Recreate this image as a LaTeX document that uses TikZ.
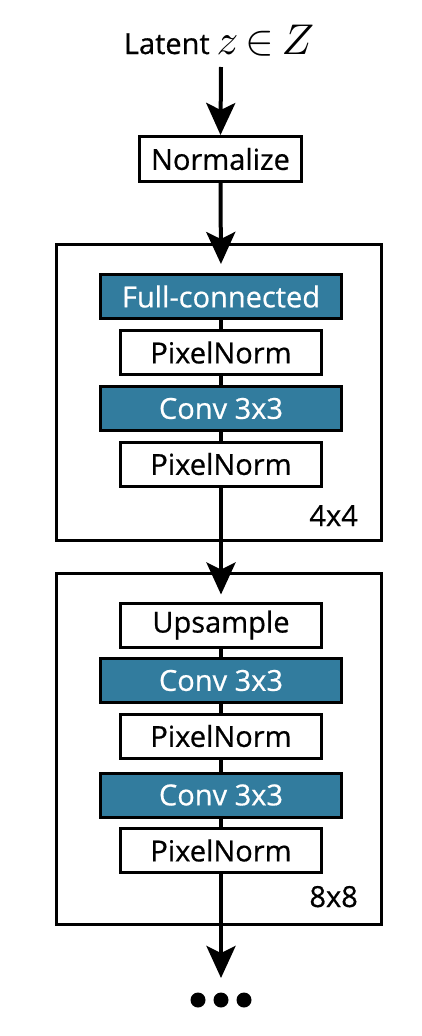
\documentclass[tikz,border=0pt]{standalone}
\usepackage{graphicx}
\usepackage{fontspec}
\setmainfont{Open Sans}[FakeBold=0.6]
\usetikzlibrary{arrows.meta}
\definecolor{teal1}{HTML}{327C9E}
\newcommand{\bigmath}[1]{\scalebox{4.3}{\normalsize$\thickmuskip=3mu #1$}}
\tikzset{
  blk/.style={draw=black, line width=3pt, inner sep=0pt, minimum height=44pt,
    font=\fontsize{29}{32}\selectfont},
  wide/.style={blk, fill=teal1, text=white, minimum width=241pt},
  narrow/.style={blk, fill=white, text=black, minimum width=201pt},
  frame/.style={draw=black, line width=3pt},
  link/.style={line width=4pt, draw=black},
  flow/.style={line width=4pt, draw=black, -{Stealth[length=32pt,width=29pt,inset=7pt]}},
  lbl/.style={font=\fontsize{29}{32}\selectfont, inner sep=0pt}
}
\begin{document}
\begin{tikzpicture}[x=1pt,y=-1pt]
\useasboundingbox (0,0) rectangle (422,1036);
% outer frames
\draw[frame] (56.5,244.5) rectangle (381.5,540.5);
\draw[frame] (56.5,573.5) rectangle (381.5,924.5);
\node[lbl, anchor=base east] (l4) at (358,526) {4x4};
\node[lbl, anchor=base east] (l8) at (358,907) {8x8};
% input
\node[lbl, anchor=base] (lat) at (219,54) {Latent\hspace{7pt}\bigmath{z\in Z}};
\node[blk, fill=white, minimum width=162pt, minimum height=45pt] (norm) at (220.5,159) {Normalize};
% block 4x4
\node[wide] (fc) at (221,296.5) {Full-connected};
\node[narrow] (pn1) at (221,352.5) {PixelNorm};
\node[wide] (cv1) at (221,408.5) {Conv 3x3};
\node[narrow] (pn2) at (221,464) {PixelNorm};
% block 8x8
\node[narrow] (up) at (221,625) {Upsample};
\node[wide] (cv2) at (221,680.5) {Conv 3x3};
\node[narrow] (pn3) at (221,736) {PixelNorm};
\node[wide] (cv3) at (221,795) {Conv 3x3};
\node[narrow] (pn4) at (221,850.5) {PixelNorm};
\coordinate (more) at (221,1000);
% connectors
\draw[flow] (221,67) -- (norm.north);
\draw[flow, shorten >=9pt] (norm.south) -- (fc.north);
\draw[link] (fc.south) -- (pn1.north);
\draw[link] (pn1.south) -- (cv1.north);
\draw[link] (cv1.south) -- (pn2.north);
\draw[flow, shorten >=7pt] (pn2.south) -- (up.north);
\draw[link] (up.south) -- (cv2.north);
\draw[link] (cv2.south) -- (pn3.north);
\draw[link] (pn3.south) -- (cv3.north);
\draw[link] (cv3.south) -- (pn4.north);
\draw[flow, shorten >=22pt] (pn4.south) -- (more);
\fill (198,1000) circle[radius=7.5];
\fill (more) circle[radius=7.5];
\fill (244,1000) circle[radius=7.5];
\end{tikzpicture}
\end{document}
